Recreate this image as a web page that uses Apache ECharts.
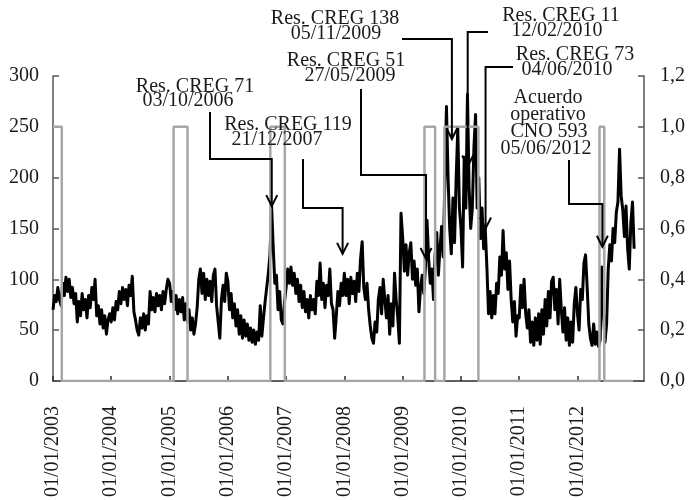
<!DOCTYPE html>
<html>
<head>
<meta charset="utf-8">
<script src="https://cdn.jsdelivr.net/npm/echarts@6/dist/echarts.min.js"></script>
<style>
  html, body { margin: 0; padding: 0; background: #fff; }
  #chart { width: 689px; height: 500px; }
</style>
</head>
<body>
<div id="chart"></div>
<script>
// Spot price, sampled 36 times per year (left axis)
const priceYears = [2003, 2004, 2005, 2006, 2007, 2008, 2009, 2010, 2011, 2012];
const p2003 = [70, 84, 78, 92, 80, 74, 96, 84, 102, 88, 100, 82, 92, 76, 86, 58, 78, 64, 86, 70, 80, 62, 84, 72, 92, 80, 100, 64, 74, 56, 70, 52, 64, 46, 60, 66];
const p2004 = [58, 72, 60, 78, 70, 88, 76, 92, 80, 90, 74, 94, 84, 103, 68, 60, 50, 45, 62, 52, 66, 50, 64, 56, 88, 70, 82, 68, 86, 74, 84, 70, 88, 76, 90, 100];
const p2005 = [96, 78, 88, 70, 84, 66, 80, 68, 82, 60, 76, 58, 70, 50, 62, 46, 56, 72, 100, 110, 86, 106, 80, 100, 84, 98, 78, 104, 110, 74, 58, 42, 80, 94, 78, 106];
const p2006 = [98, 70, 86, 62, 76, 54, 70, 46, 64, 42, 60, 44, 56, 40, 52, 38, 50, 36, 48, 40, 74, 44, 62, 78, 92, 106, 124, 172, 132, 96, 104, 70, 88, 60, 56, 78];
const p2007 = [92, 110, 96, 112, 94, 106, 86, 100, 78, 94, 72, 88, 68, 80, 62, 84, 70, 80, 66, 98, 84, 116, 80, 96, 72, 94, 84, 110, 76, 70, 42, 64, 88, 74, 96, 84];
const p2008 = [106, 84, 100, 76, 102, 86, 98, 78, 106, 88, 120, 137, 92, 80, 96, 70, 54, 42, 37, 58, 48, 80, 92, 66, 100, 80, 62, 84, 46, 76, 54, 106, 80, 62, 37, 165];
const p2009 = [140, 108, 134, 104, 126, 136, 100, 118, 94, 110, 68, 92, 104, 86, 112, 158, 120, 96, 110, 80, 124, 146, 104, 130, 152, 122, 196, 270, 200, 150, 125, 180, 136, 200, 248, 170];
const p2010 = [150, 112, 220, 170, 282, 190, 150, 170, 230, 262, 170, 200, 140, 170, 130, 150, 112, 66, 88, 62, 84, 66, 96, 86, 122, 104, 148, 110, 126, 90, 118, 80, 58, 78, 44, 64];
const p2011 = [62, 94, 72, 100, 66, 52, 70, 38, 58, 35, 62, 40, 66, 36, 70, 46, 80, 54, 88, 62, 98, 102, 70, 90, 56, 100, 70, 48, 72, 40, 62, 35, 58, 38, 76, 92];
const p2012 = [66, 50, 90, 80, 116, 124, 92, 56, 42, 35, 56, 36, 48, 34, 40, 112, 70, 38, 56, 110, 134, 118, 150, 136, 166, 176, 228, 182, 168, 142, 172, 130, 110, 156, 176, 130];
const priceRows = [p2003, p2004, p2005, p2006, p2007, p2008, p2009, p2010, p2011, p2012];

// Regime indicator (right axis): periods when the indicator equals 1
const regimeOn  = ['2003-01-01', '2005-01-26', '2006-09-24', '2009-05-17', '2009-09-19', '2012-05-18'];
const regimeOff = ['2003-02-25', '2005-04-23', '2006-12-24', '2009-07-23', '2010-04-20', '2012-06-17'];
const regimeLast = '2012-12-15';

// Regulatory events
const noteLines = [
  ['Res. CREG 71', '03/10/2006'],
  ['Res. CREG 119', '21/12/2007'],
  ['Res. CREG 51', '27/05/2009'],
  ['Res. CREG 138', '05/11/2009'],
  ['Res. CREG 11', '12/02/2010'],
  ['Res. CREG 73', '04/06/2010'],
  ['Acuerdo', 'operativo', 'CNO 593', '05/06/2012']
];
const noteDates = ['2006-10-03', '2007-12-21', '2009-05-27', '2009-11-05', '2010-02-12', '2010-06-04', '2012-06-05'];

// Axis tick labels
const tickYears = [2003, 2004, 2005, 2006, 2007, 2008, 2009, 2010, 2011, 2012];
const leftTicks = [0, 50, 100, 150, 200, 250, 300];
const rightTicks = [0, 0.2, 0.4, 0.6, 0.8, 1.0, 1.2];

const day = 86400000;
const toTime = s => { const [y, m, d] = s.split('-').map(Number); return new Date(y, m - 1, d).getTime(); };

const priceData = [];
priceRows.forEach((row, k) => {
  const start = new Date(priceYears[k], 0, 1).getTime();
  row.forEach((v, i) => priceData.push([start + i * (365.25 / row.length) * day, v]));
});

const regimeData = [];
regimeOn.forEach((on, k) => {
  if (k > 0) regimeData.push([toTime(on), 0]);
  regimeData.push([toTime(on), 1]);
  regimeData.push([toTime(regimeOff[k]), 1]);
  regimeData.push([toTime(regimeOff[k]), 0]);
});
regimeData.push([toTime(regimeLast), 0]);

const serif = '"Liberation Serif", "Times New Roman", serif';
const tickYearTimes = tickYears.map(y => new Date(y, 0, 1).getTime());

const chart = echarts.init(document.getElementById('chart'), null, { renderer: 'canvas' });

chart.setOption({
  animation: false,
  backgroundColor: '#fff',
  grid: { left: 53, right: 45, top: 76, bottom: 117, containLabel: false },
  xAxis: {
    type: 'value',
    min: new Date(2003, 0, 1).getTime(),
    max: new Date(2013, 1, 21).getTime(),
    axisLine: { lineStyle: { color: '#2b2b2b', width: 1.5 } },
    axisTick: { inside: true, length: 5, customValues: tickYearTimes, lineStyle: { color: '#2b2b2b', width: 1.5 } },
    axisLabel: {
      customValues: tickYearTimes,
      rotate: 90,
      margin: 25,
      padding: [0, 0, 0, 0],
      fontFamily: serif,
      fontSize: 20,
      color: '#1a1a1a',
      formatter: v => '01/01/' + new Date(v).getFullYear()
    },
    splitLine: { show: false }
  },
  yAxis: [
    {
      type: 'value', min: leftTicks[0], max: leftTicks[leftTicks.length - 1], interval: 50,
      axisLine: { show: true, lineStyle: { color: '#555', width: 1.5 } },
      axisTick: { show: true, inside: true, length: 6, lineStyle: { color: '#555', width: 1.5 } },
      axisLabel: { margin: 14, fontFamily: serif, fontSize: 20, color: '#1a1a1a' },
      splitLine: { show: false }
    },
    {
      type: 'value', min: rightTicks[0], max: rightTicks[rightTicks.length - 1], interval: 0.2,
      position: 'right',
      axisLine: { show: true, lineStyle: { color: '#555', width: 1.5 } },
      axisTick: { show: true, inside: true, length: 6, lineStyle: { color: '#555', width: 1.5 } },
      axisLabel: { margin: 16, fontFamily: serif, fontSize: 20, color: '#1a1a1a',
        formatter: v => v.toFixed(1).replace('.', ',') },
      splitLine: { show: false }
    }
  ],
  series: [
    {
      name: 'Precio', type: 'line', yAxisIndex: 0, data: priceData,
      showSymbol: false, symbol: 'none', z: 2,
      lineStyle: { color: '#000', width: 3, join: 'round' }
    },
    {
      name: 'Indicador', type: 'line', yAxisIndex: 1, data: regimeData,
      showSymbol: false, symbol: 'none', z: 3,
      lineStyle: { color: '#a6a6a6', width: 2.5 }
    }
  ]
});

// Callout layout: text line centres and elbow path leading to the event arrow
const noteLayout = [
  { xs: [195, 188], ys: [87, 101], path: [[210, 112], [210, 159]], tip: 172 },
  { xs: [288, 277], ys: [125, 140], path: [[303, 159], [303, 208]], tip: 125 },
  { xs: [346, 350], ys: [61, 76], path: [[361, 89], [361, 175]], tip: 120 },
  { xs: [335, 336], ys: [19, 34], path: [[402, 39]], tip: 238 },
  { xs: [561, 557], ys: [16, 31], path: [[488, 32]], tip: 211 },
  { xs: [575, 567], ys: [55, 70], path: [[513, 67]], tip: 150 },
  { xs: [548, 548, 549, 546], ys: [98, 115, 132, 149], path: [[569, 160], [569, 204]], tip: 132 }
];

const elements = [];
noteLines.forEach((lines, k) => {
  const lay = noteLayout[k];
  lines.forEach((t, j) => {
    elements.push({
      type: 'text', z: 10,
      style: { text: t, x: lay.xs[j], y: lay.ys[j], textAlign: 'center', textVerticalAlign: 'middle',
        font: '20px ' + serif, fill: '#1a1a1a' }
    });
  });
  const tipPx = chart.convertToPixel({ xAxisIndex: 0, yAxisIndex: 0 }, [toTime(noteDates[k]), lay.tip]);
  const pts = lay.path.slice();
  const lastY = pts[pts.length - 1][1];
  pts.push([tipPx[0], lastY], [tipPx[0], tipPx[1]]);
  elements.push({
    type: 'polyline', z: 10,
    shape: { points: pts },
    style: { stroke: '#000', lineWidth: 2, fill: null }
  });
  elements.push({
    type: 'polyline', z: 10,
    shape: { points: [[tipPx[0] - 5.5, tipPx[1] - 11], [tipPx[0], tipPx[1]], [tipPx[0] + 5.5, tipPx[1] - 11]] },
    style: { stroke: '#000', lineWidth: 2, fill: null }
  });
});

chart.setOption({ graphic: { elements: elements } });
</script>
</body>
</html>
